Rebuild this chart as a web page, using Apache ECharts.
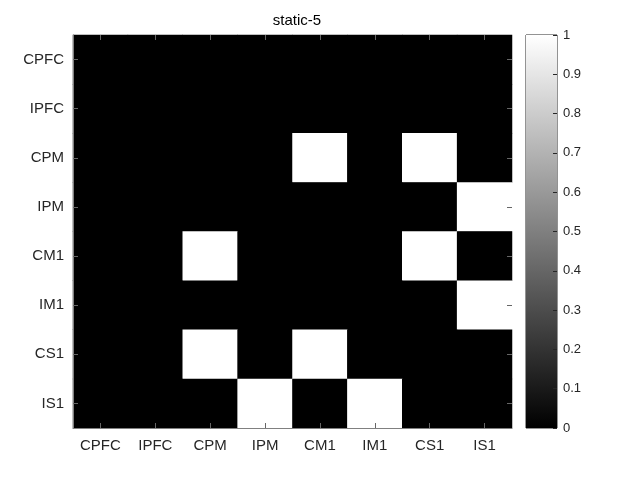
<!DOCTYPE html>
<html>
<head>
<meta charset="utf-8">
<script src="https://cdn.jsdelivr.net/npm/echarts@6/dist/echarts.min.js"></script>
<style>html,body{margin:0;padding:0;background:#fff}#c{width:643px;height:481px}</style>
</head>
<body>
<div id="c"></div>
<script>
const categories = ['CPFC', 'IPFC', 'CPM', 'IPM', 'CM1', 'IM1', 'CS1', 'IS1'];
// rows (y, top to bottom) x columns (x, left to right)
const rowCPFC = [0, 0, 0, 0, 0, 0, 0, 0];
const rowIPFC = [0, 0, 0, 0, 0, 0, 0, 0];
const rowCPM  = [0, 0, 0, 0, 1, 0, 1, 0];
const rowIPM  = [0, 0, 0, 0, 0, 0, 0, 1];
const rowCM1  = [0, 0, 1, 0, 0, 0, 1, 0];
const rowIM1  = [0, 0, 0, 0, 0, 0, 0, 1];
const rowCS1  = [0, 0, 1, 0, 1, 0, 0, 0];
const rowIS1  = [0, 0, 0, 1, 0, 1, 0, 0];
const matrix = [rowCPFC, rowIPFC, rowCPM, rowIPM, rowCM1, rowIM1, rowCS1, rowIS1];
const colorbarMax = [1];
const titleText = 'static-5';

const heatData = [];
matrix.forEach((row, y) => row.forEach((v, x) => heatData.push([x, y, v])));

const font = 'Liberation Sans, Arial, Helvetica, sans-serif';
const txt = '#262626';

const chart = echarts.init(document.getElementById('c'), null, {renderer: 'canvas'});
chart.setOption({
  animation: false,
  backgroundColor: '#ffffff',
  title: {
    text: titleText, left: 292, top: 8, textAlign: 'center',
    textStyle: {fontFamily: font, fontSize: 15, fontWeight: 'normal', color: '#000'}
  },
  grid: [
    {left: 73, top: 35, width: 439, height: 393, show: true, backgroundColor: '#000000', borderWidth: 0},
    {left: 526, top: 35, width: 31, height: 393, show: true, borderColor: '#262626', borderWidth: 1, backgroundColor: 'transparent'}
  ],
  xAxis: [
    {type: 'category', data: categories, gridIndex: 0, position: 'bottom',
     axisLine: {show: true, lineStyle: {color: '#808080'}},
     axisTick: {show: true, inside: true, alignWithLabel: true, length: 5, lineStyle: {color: '#666'}},
     axisLabel: {fontFamily: font, fontSize: 15, color: txt, margin: 10},
     splitLine: {show: false}, z: 10},
    {type: 'category', data: categories, gridIndex: 0, position: 'top',
     axisLine: {show: false},
     axisTick: {show: true, inside: true, alignWithLabel: true, length: 5, lineStyle: {color: '#666'}},
     axisLabel: {show: false}, splitLine: {show: false}, z: 10},
    {type: 'category', data: ['c'], gridIndex: 1, show: false}
  ],
  yAxis: [
    {type: 'category', data: categories, gridIndex: 0, inverse: true, position: 'left',
     axisLine: {show: true, lineStyle: {color: '#808080'}},
     axisTick: {show: true, inside: true, alignWithLabel: true, length: 5, lineStyle: {color: '#666'}},
     axisLabel: {fontFamily: font, fontSize: 15, color: txt, margin: 9},
     splitLine: {show: false}, z: 10},
    {type: 'category', data: categories, gridIndex: 0, inverse: true, position: 'right',
     axisLine: {show: false},
     axisTick: {show: true, inside: true, alignWithLabel: true, length: 5, lineStyle: {color: '#666'}},
     axisLabel: {show: false}, splitLine: {show: false}, z: 10},
    {type: 'value', gridIndex: 1, min: 0, max: 1, interval: 0.1, position: 'right',
     axisLine: {show: false},
     axisTick: {show: true, inside: true, length: 4, lineStyle: {color: '#262626'}},
     axisLabel: {fontFamily: font, fontSize: 13, color: txt, margin: 6},
     splitLine: {show: false}, z: 10}
  ],
  visualMap: {
    show: false, type: 'continuous', min: 0, max: 1, seriesIndex: 0,
    inRange: {color: ['#000000', '#ffffff']}
  },
  series: [
    {type: 'heatmap', xAxisIndex: 0, yAxisIndex: 0, data: heatData, itemStyle: {borderWidth: 0}},
    {type: 'bar', xAxisIndex: 2, yAxisIndex: 2, data: colorbarMax, barWidth: '100%', silent: true,
     itemStyle: {color: new echarts.graphic.LinearGradient(0, 1, 0, 0, [
       {offset: 0, color: '#000000'}, {offset: 1, color: '#ffffff'}])}}
  ]
});
</script>
</body>
</html>
